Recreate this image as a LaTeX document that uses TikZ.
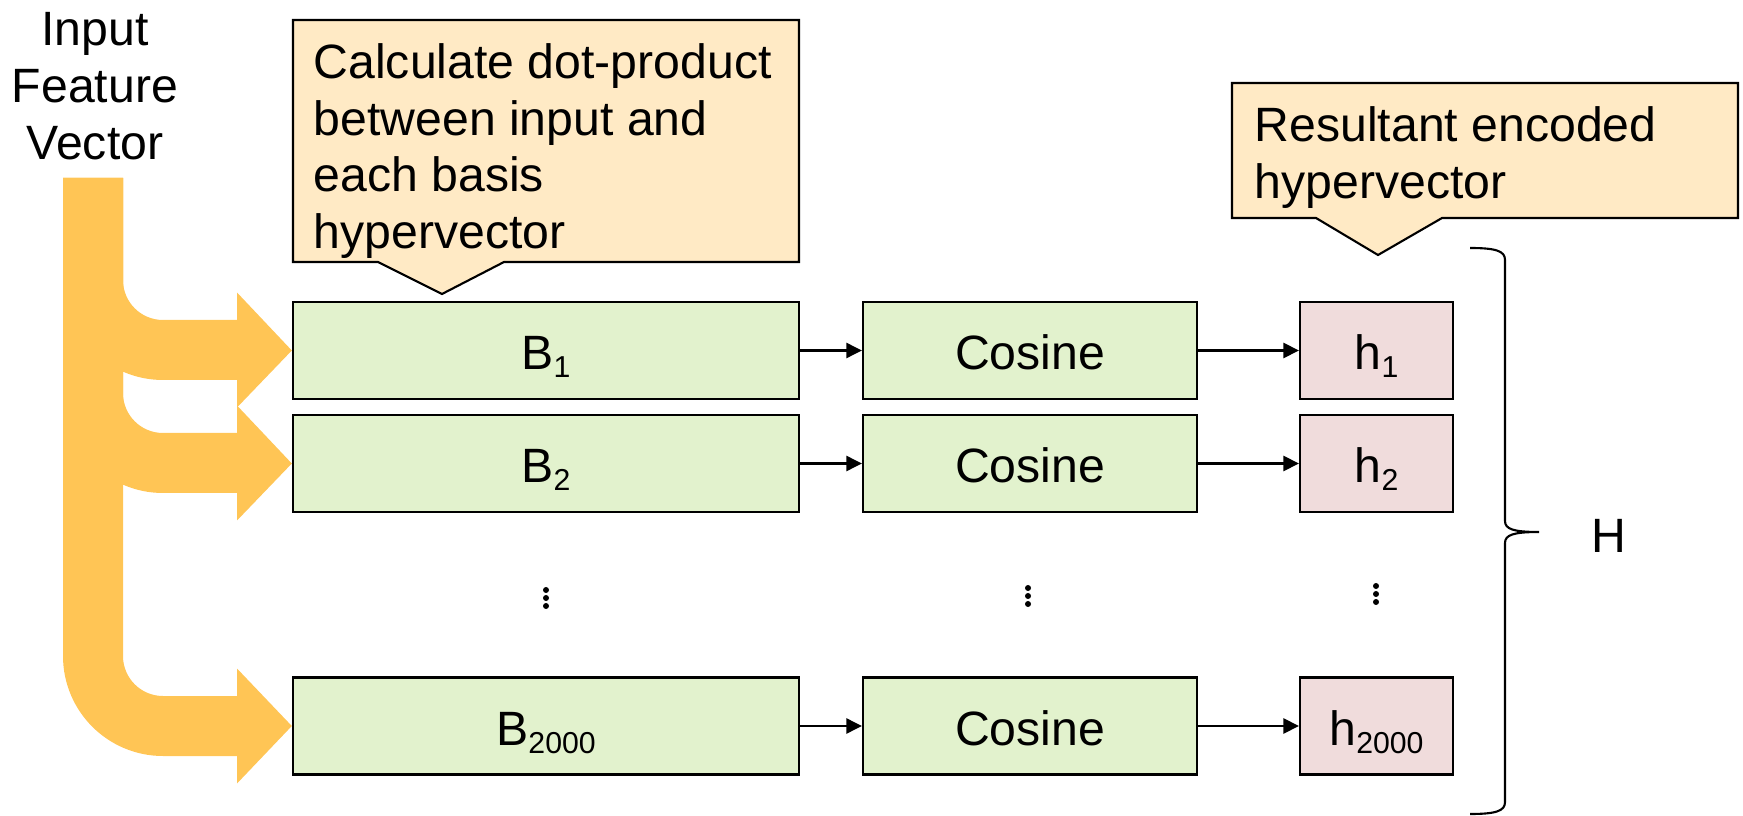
\documentclass[tikz,border=0pt]{standalone}
\usepackage{fontspec}
\setmainfont{Liberation Sans}
\usetikzlibrary{arrows.meta,backgrounds}

\definecolor{flow}{RGB}{255,197,85}
\definecolor{notefill}{RGB}{255,234,197}
\definecolor{basisfill}{RGB}{226,242,205}
\definecolor{resfill}{RGB}{240,220,220}

% lowered, smaller index as used in the box labels
\newcommand\lowsub[1]{\raisebox{-0.17em}{\fontsize{8.6}{10}\selectfont #1}}

\begin{document}
\begin{tikzpicture}[x=0.01cm,y=-0.01cm,
  lbl/.style={font=\fontsize{13.7}{16.1}\selectfont, inner sep=0pt},
  cellbox/.style={draw=black, line width=0.6pt,
    font=\fontsize{13.7}{16.1}\selectfont,
    text height=0.38cm, text depth=0cm,
    minimum height=0.97cm, inner sep=0pt},
  basis/.style={cellbox, fill=basisfill, minimum width=5.06cm},
  cosbox/.style={cellbox, fill=basisfill, minimum width=3.34cm},
  resbox/.style={cellbox, fill=resfill, minimum width=1.53cm},
  link/.style={line width=0.6pt, -{Triangle[length=4.4pt,width=4.3pt]}},
  note/.style={draw=black, line width=0.6pt, fill=notefill, line join=miter},
  brace/.style={draw=black, line width=0.6pt}]

\useasboundingbox (0,0) rectangle (1743,816);

% input label
\node[lbl, align=center, anchor=north] (inp) at (95,12) {Input\\Feature\\Vector};

% basis rows
\node[basis]  (b1)    at (546,350.5) {B\lowsub{1}};
\node[basis]  (b2)    at (546,463.5) {B\lowsub{2}};
\node[basis]  (b2000) at (546,726)   {B\lowsub{2000}};

\node[cosbox] (c1)    at (1030,350.5) {Cosine};
\node[cosbox] (c2)    at (1030,463.5) {Cosine};
\node[cosbox] (c2000) at (1030,726)   {Cosine};

\node[resbox] (h1)    at (1376.5,350.5) {h\lowsub{1}};
\node[resbox] (h2)    at (1376.5,463.5) {h\lowsub{2}};
\node[resbox] (h2000) at (1376.5,726)   {h\lowsub{2000}};

% connectors
\foreach \r in {1,2,2000}{
  \draw[link] (b\r.east) -- (c\r.west);
  \draw[link] (c\r.east) -- (h\r.west);
}

% vertical dots between rows
\foreach \x/\y in {546/590,1028/588,1376/586}{
  \foreach \d in {0,8,16}
    \fill (\x,\y+\d) circle[radius=0.03cm];
}

% wide orange feed arrows from the input into each basis row
\begin{scope}[on background layer]
\foreach \c/\n in {280/b1,393/b2,656/b2000}{
  \fill[flow] (63,178) -- (123,178) -- (123,\c)
    .. controls (123,{\c+22.1}) and (140.9,{\c+40}) .. (163,{\c+40})
    -- (237,{\c+40}) -- (237,{\c+12.5}) -- (\n.west)
    -- (237,{\c+127.5}) -- (237,{\c+100}) -- (163,{\c+100})
    .. controls (107.8,{\c+100}) and (63,{\c+55.2}) .. (63,\c) -- cycle;
}
\end{scope}

% callout for the dot-product step
\draw[note] (293,20) -- (799,20) -- (799,262) -- (504,262) -- (442,294)
  -- (378,262) -- (293,262) -- cycle;
\node[lbl, align=left, anchor=north west] (note1) at (313,43)
  {Calculate dot-product\\between input and\\each basis\\hypervector};

% callout for the result
\draw[note] (1232,83) -- (1738,83) -- (1738,218) -- (1442,218) -- (1378,255)
  -- (1316,218) -- (1232,218) -- cycle;
\node[lbl, align=left, anchor=north west] (note2) at (1254,106)
  {Resultant encoded\\hypervector};

% brace collecting the h entries
\coordinate (bracetip) at (1539,532);
\draw[brace] (1470,248) .. controls (1496,248) and (1505,251) .. (1505,260)
  -- (1505,521) .. controls (1505,529) and (1513,532) .. (bracetip)
  .. controls (1513,532) and (1505,535) .. (1505,543)
  -- (1505,802) .. controls (1505,811) and (1496,814) .. (1470,814);

\node[lbl, anchor=base] (H) at (1609,552) {H};

\end{tikzpicture}
\end{document}
